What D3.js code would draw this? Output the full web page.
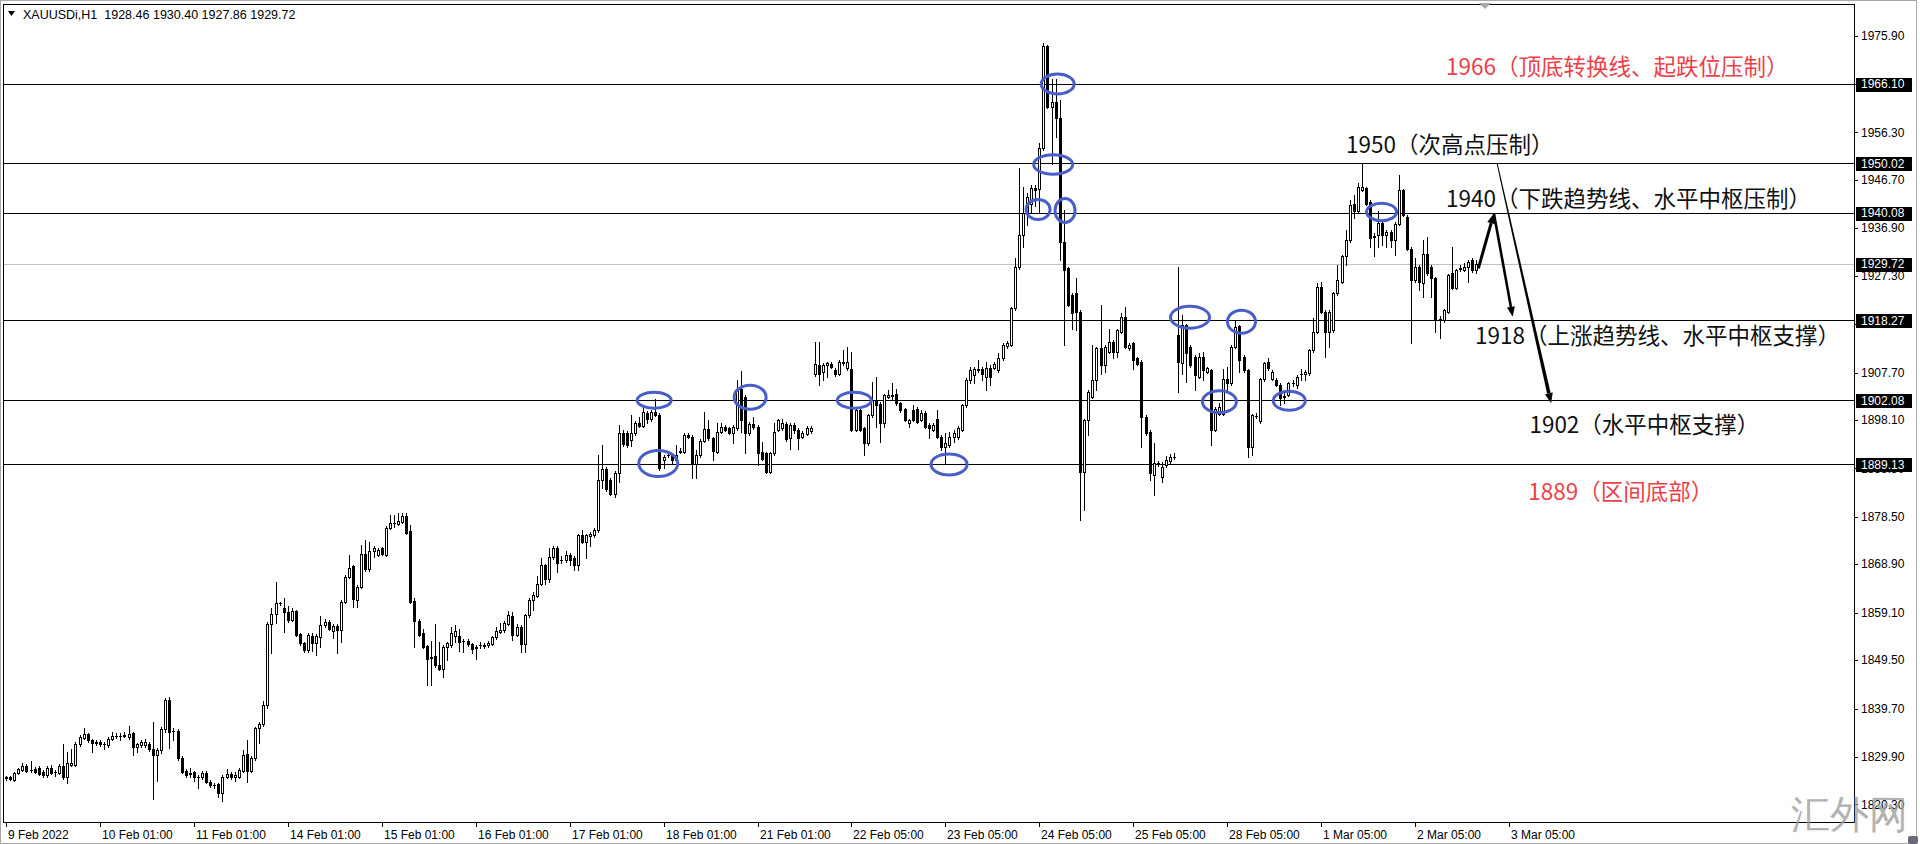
<!DOCTYPE html>
<html>
<head>
<meta charset="utf-8">
<title>XAUUSDi,H1</title>
<style>
  body { margin: 0; background: #fff; }
  svg { display: block; background: #fff; }
  text { font-family: "Liberation Sans", Arial, sans-serif; }
  .axis text { font-size: 12px; fill: #000; }
  .note { font-family: "Noto Sans CJK SC", sans-serif; font-size: 22.5px; }
</style>
</head>
<body>
<svg id="chart" width="1920" height="844"></svg>
<script src="https://d3js.org/d3.v7.min.js"></script>
<script>
// hourly bars [open, high, low, close]
const barsFeb09_15 = [
  [1825.6,1826.1,1825.3,1825.8],[1825.8,1826.0,1825.2,1825.4],[1825.2,1826.8,1825.0,1826.6],[1826.6,1827.6,1826.4,1827.4],
  [1827.3,1828.7,1827.1,1828.0],[1828.0,1828.4,1826.9,1827.1],[1827.3,1829.0,1826.9,1827.2],[1827.5,1827.8,1826.6,1826.9],
  [1827.6,1828.0,1826.2,1826.5],[1826.9,1827.2,1825.9,1826.2],[1826.2,1828.0,1825.9,1827.6],[1827.6,1828.2,1826.5,1826.7],
  [1826.9,1827.3,1826.0,1826.8],[1826.7,1828.5,1826.4,1828.0],[1828.0,1832.5,1825.5,1825.8],[1825.9,1831.0,1824.6,1828.6],
  [1828.3,1831.6,1828.0,1828.6],[1828.3,1833.0,1828.0,1832.5],[1832.5,1834.4,1832.2,1833.9],[1833.8,1835.7,1833.5,1834.5],
  [1834.5,1834.8,1833.0,1833.3],[1833.3,1833.6,1831.0,1832.8],[1832.8,1833.4,1832.4,1833.0],[1833.0,1833.3,1832.2,1832.5],
  [1832.5,1832.9,1831.5,1832.6],[1832.3,1834.0,1832.0,1833.6],[1833.6,1834.9,1833.4,1834.2],[1834.1,1834.7,1833.7,1834.2],
  [1834.1,1834.7,1833.4,1834.2],[1834.2,1834.9,1833.9,1834.4],[1833.9,1836.1,1833.6,1834.6],[1834.7,1835.0,1830.3,1832.0],
  [1831.9,1832.8,1831.0,1832.5],[1832.3,1833.4,1832.0,1833.0],[1832.3,1833.6,1832.0,1833.0],[1832.5,1832.9,1831.2,1831.6],
  [1831.6,1837.0,1821.3,1830.3],[1830.3,1831.8,1825.1,1831.3],[1831.3,1836.0,1830.8,1835.5],[1835.5,1841.8,1835.0,1841.4],
  [1841.4,1842.0,1831.8,1835.0],[1835.1,1835.7,1833.3,1835.2],[1835.2,1835.5,1829.3,1829.6],[1829.6,1830.0,1826.6,1826.9],
  [1827.1,1827.4,1825.8,1826.2],[1826.5,1827.7,1825.9,1826.7],[1826.8,1827.0,1825.1,1825.9],[1825.9,1826.2,1823.6,1825.8],
  [1825.8,1827.0,1825.5,1826.7],[1826.7,1827.0,1824.6,1824.9],[1824.9,1825.2,1823.9,1824.2],[1824.2,1824.7,1823.6,1824.3],
  [1824.4,1824.7,1821.9,1822.7],[1822.7,1826.2,1820.9,1825.9],[1825.9,1827.4,1825.6,1826.4],[1826.4,1826.8,1825.4,1825.9],
  [1825.8,1826.9,1825.1,1826.3],[1825.9,1827.6,1825.6,1827.3],[1827.1,1831.4,1826.8,1830.3],[1830.5,1833.3,1824.9,1827.1],
  [1827.1,1830.0,1826.8,1829.6],[1829.6,1836.0,1829.3,1835.7],[1835.7,1837.0,1832.7,1836.5],[1836.5,1841.2,1836.2,1840.5],
  [1840.4,1857.2,1839.8,1856.9],[1856.9,1860.0,1851.0,1858.8],[1858.8,1865.4,1857.0,1861.0],[1861.0,1861.3,1860.7,1861.0],
  [1860.0,1862.0,1855.1,1859.3],[1859.3,1860.5,1857.3,1857.6],[1857.7,1860.0,1857.4,1859.4],[1859.4,1859.7,1854.3,1854.6],
  [1854.7,1855.0,1852.6,1852.9],[1852.9,1853.2,1851.2,1851.5],[1851.5,1854.9,1851.2,1854.6],[1854.4,1854.9,1851.4,1852.9],
  [1852.9,1854.8,1850.5,1854.4],[1854.2,1858.4,1852.2,1856.6],[1856.6,1857.8,1856.2,1857.3],[1857.3,1857.6,1855.6,1855.9],
  [1855.3,1856.8,1853.9,1856.4],[1856.4,1856.8,1851.0,1855.5],[1855.5,1861.6,1853.2,1861.3],[1861.3,1866.8,1861.0,1866.4],
  [1866.4,1870.8,1866.1,1868.2],[1868.5,1868.8,1860.3,1861.8],[1861.7,1864.7,1860.3,1864.4],[1864.4,1872.7,1864.1,1871.0],
  [1871.0,1873.9,1867.6,1867.9],[1867.9,1873.5,1867.6,1871.6],[1871.5,1872.5,1870.4,1872.2],[1870.8,1872.2,1870.5,1871.8],
  [1872.1,1872.4,1870.8,1871.0],[1870.8,1876.6,1870.5,1876.2],[1876.2,1878.9,1876.0,1877.2],[1877.2,1878.9,1876.5,1877.3],
  [1877.1,1879.2,1876.8,1877.7]
];
const barsFeb15_21 = [
  [1877.5,1879.3,1877.2,1878.7],[1878.7,1879.3,1875.0,1875.3],[1875.7,1876.8,1861.0,1861.3],[1861.5,1862.0,1852.2,1857.5],
  [1857.5,1857.8,1854.3,1854.6],[1854.9,1855.9,1851.9,1852.2],[1852.3,1852.6,1844.5,1849.7],[1850.0,1853.4,1844.5,1850.1],
  [1850.3,1856.9,1848.2,1848.5],[1848.5,1853.2,1847.5,1847.8],[1847.8,1852.5,1846.1,1852.2],[1852.2,1853.2,1849.5,1852.9],
  [1852.5,1856.3,1852.2,1855.0],[1854.4,1856.6,1853.2,1855.3],[1854.4,1855.7,1851.4,1853.2],[1853.4,1853.8,1851.2,1853.4],
  [1853.4,1853.8,1852.3,1852.8],[1852.8,1853.0,1851.0,1851.7],[1852.2,1852.5,1849.8,1852.0],[1852.6,1853.2,1851.9,1852.5],
  [1852.3,1852.9,1852.0,1852.5],[1852.6,1853.3,1852.2,1852.9],[1852.8,1854.4,1852.5,1854.1],[1854.1,1856.2,1853.8,1855.3],
  [1855.2,1857.1,1854.9,1855.6],[1855.5,1857.5,1855.2,1857.1],[1856.9,1859.4,1856.6,1858.6],[1858.4,1859.3,1853.6,1854.6],
  [1854.6,1856.8,1854.3,1856.3],[1856.3,1856.6,1851.2,1852.8],[1852.8,1858.9,1851.2,1858.6],[1858.6,1862.0,1858.3,1861.7],
  [1861.7,1863.2,1859.6,1862.7],[1862.5,1866.6,1862.2,1865.0],[1865.0,1870.1,1864.7,1868.7],[1868.7,1869.0,1865.0,1866.0],
  [1866.0,1872.1,1865.4,1870.4],[1870.3,1872.5,1870.0,1872.1],[1872.1,1872.5,1867.4,1869.1],[1869.8,1870.5,1869.1,1869.7],
  [1869.7,1871.5,1869.4,1870.8],[1870.8,1871.1,1868.7,1869.7],[1870.1,1870.5,1867.7,1868.7],[1868.7,1875.1,1867.7,1874.8],
  [1874.8,1875.8,1873.2,1873.5],[1873.5,1875.1,1870.1,1874.8],[1874.6,1875.5,1872.5,1875.1],[1874.8,1876.3,1874.5,1875.9],
  [1875.8,1891.0,1875.5,1885.9],[1885.9,1893.0,1884.3,1888.1],[1888.1,1888.6,1883.8,1884.1],[1885.9,1886.3,1882.9,1883.2],
  [1883.2,1887.8,1882.6,1887.4],[1887.3,1897.1,1885.6,1895.5],[1895.5,1896.0,1892.9,1893.2],[1895.5,1895.9,1892.7,1893.0],
  [1894.0,1899.1,1892.8,1895.4],[1895.4,1897.8,1895.1,1897.4],[1897.4,1898.8,1896.6,1896.9],[1896.9,1900.8,1896.6,1899.8],
  [1899.6,1900.0,1897.4,1898.4],[1898.2,1900.2,1897.9,1899.8],[1899.7,1902.3,1898.9,1899.2],[1899.2,1899.5,1888.0,1888.3],
  [1890.1,1891.0,1888.3,1890.6],[1891.0,1891.4,1890.7,1891.1],[1891.0,1891.3,1889.3,1890.1],[1890.1,1893.0,1889.8,1891.0],
  [1891.7,1892.4,1891.4,1891.8],[1891.7,1895.5,1891.4,1895.1],[1895.1,1895.5,1894.4,1894.7],[1894.7,1895.0,1886.3,1889.2],
  [1889.2,1892.0,1886.3,1891.0],[1891.0,1894.2,1890.7,1893.9],[1893.9,1899.8,1893.6,1896.2],[1896.2,1898.1,1894.1,1894.4],
  [1894.4,1894.7,1890.0,1891.9],[1891.7,1897.4,1891.4,1895.7],[1895.7,1897.4,1895.4,1896.7],[1896.7,1897.0,1895.8,1896.1],
  [1896.4,1896.7,1895.2,1895.5],[1895.4,1897.0,1893.4,1896.7],[1896.4,1906.2,1896.1,1904.3],[1904.3,1908.1,1895.7,1898.1],
  [1902.8,1903.1,1891.4,1895.4],[1895.4,1897.6,1895.1,1897.3],[1897.3,1898.8,1896.3,1896.6],[1896.7,1897.0,1889.0,1891.5],
  [1891.7,1893.7,1890.0,1890.3],[1891.4,1891.7,1887.3,1887.6],[1887.6,1891.7,1887.3,1891.4],[1891.4,1897.4,1891.1,1895.7]
];
const barsFeb21_25 = [
  [1896.1,1898.4,1895.8,1898.1],[1896.4,1898.4,1896.1,1897.4],[1897.3,1897.6,1893.9,1894.2],[1894.4,1897.4,1892.2,1897.1],
  [1897.1,1897.4,1895.4,1896.1],[1896.1,1896.4,1892.2,1894.4],[1894.7,1895.8,1894.4,1895.4],[1895.3,1896.8,1895.0,1896.4],
  [1895.8,1896.8,1895.5,1896.4],[1907.5,1913.9,1907.0,1909.4],[1909.2,1913.9,1905.2,1907.5],[1907.9,1909.6,1906.2,1909.2],
  [1909.3,1909.9,1906.9,1909.6],[1909.5,1909.9,1908.6,1908.9],[1908.3,1908.6,1907.1,1907.4],[1907.5,1910.2,1907.2,1909.9],
  [1909.6,1912.2,1909.3,1909.9],[1908.6,1912.9,1908.3,1909.9],[1908.4,1911.9,1895.8,1896.1],[1896.1,1900.4,1895.8,1900.1],
  [1900.1,1900.4,1895.8,1896.1],[1896.4,1896.7,1891.0,1893.4],[1893.4,1899.4,1893.1,1899.1],[1899.1,1905.8,1898.8,1902.1],
  [1902.1,1906.8,1896.7,1901.1],[1901.4,1901.7,1893.7,1897.4],[1897.4,1903.4,1896.7,1903.1],[1902.8,1904.2,1902.5,1903.1],
  [1903.0,1905.5,1902.1,1903.2],[1903.3,1904.3,1901.2,1901.5],[1901.5,1901.8,1899.8,1900.1],[1900.3,1900.6,1897.8,1898.1],
  [1897.4,1898.4,1896.7,1898.1],[1900.1,1901.1,1897.8,1898.1],[1900.4,1900.7,1897.4,1897.7],[1898.1,1900.1,1897.8,1899.6],
  [1899.6,1899.9,1896.4,1896.7],[1897.1,1897.4,1894.4,1896.4],[1896.1,1897.4,1895.8,1897.1],[1898.4,1900.1,1894.4,1894.7],
  [1894.7,1895.0,1892.0,1892.7],[1892.7,1895.4,1889.3,1893.4],[1893.0,1895.7,1892.7,1894.7],[1894.7,1896.1,1893.7,1895.4],
  [1894.6,1896.9,1894.3,1896.4],[1896.1,1901.4,1895.8,1901.1],[1901.1,1906.5,1900.8,1906.2],[1906.2,1908.8,1905.5,1908.2],
  [1907.2,1908.9,1905.5,1908.5],[1908.2,1910.2,1907.9,1908.5],[1908.5,1908.9,1906.2,1907.5],[1906.9,1909.9,1904.2,1908.7],
  [1908.7,1909.2,1905.2,1906.9],[1908.7,1909.9,1908.4,1909.5],[1908.2,1911.6,1907.9,1910.6],[1910.6,1913.6,1910.3,1913.3],
  [1913.0,1914.0,1912.7,1913.6],[1913.3,1921.0,1913.0,1920.7],[1920.7,1930.8,1920.4,1929.0],[1929.0,1949.0,1928.7,1935.5],
  [1935.5,1945.3,1933.2,1939.9],[1940.2,1944.0,1937.6,1943.3],[1941.9,1945.6,1940.2,1945.0],[1945.0,1945.6,1941.5,1944.6],
  [1944.8,1954.1,1940.2,1953.1],[1953.1,1974.3,1952.8,1973.7],[1973.7,1974.0,1961.2,1961.5],[1961.5,1967.1,1950.0,1962.5],
  [1962.5,1967.1,1955.4,1959.2],[1959.2,1962.9,1930.5,1934.2],[1934.2,1940.6,1913.3,1928.5],[1928.8,1929.1,1921.1,1921.4],
  [1923.4,1923.8,1916.6,1919.7],[1923.7,1926.8,1916.3,1920.0],[1920.0,1920.3,1877.9,1887.6],[1887.6,1898.4,1879.9,1898.1],
  [1898.1,1904.1,1895.1,1903.8],[1902.8,1913.3,1902.5,1906.2],[1906.2,1912.9,1904.2,1912.6],[1912.6,1921.4,1907.5,1909.2],
  [1909.2,1913.3,1907.9,1912.9],[1911.9,1916.6,1911.6,1913.9],[1913.9,1914.3,1910.6,1911.9],[1911.9,1916.6,1910.9,1916.3],
  [1916.0,1919.7,1915.7,1919.0],[1919.0,1921.0,1912.6,1912.9],[1912.6,1913.6,1912.3,1913.3],[1913.6,1913.9,1908.5,1910.2],
  [1910.6,1910.9,1909.2,1909.5],[1909.9,1910.2,1892.7,1898.8],[1898.8,1899.1,1895.1,1895.4],[1895.7,1896.0,1885.9,1887.3],
  [1887.0,1893.4,1882.9,1889.3],[1889.3,1889.8,1888.8,1889.3]
];
const barsFeb25_Mar02 = [
  [1886.5,1889.5,1885.5,1888.6],[1889.0,1890.8,1888.5,1890.1],[1889.7,1891.3,1889.4,1890.7],[1890.6,1891.5,1890.2,1890.7],
  [1915.3,1929.1,1903.8,1909.9],[1909.7,1919.3,1907.5,1917.3],[1917.3,1917.6,1905.8,1911.6],[1912.9,1913.2,1908.9,1909.2],
  [1910.9,1911.2,1904.2,1907.2],[1906.9,1911.6,1906.6,1910.9],[1910.9,1911.9,1906.2,1908.2],[1907.9,1908.9,1907.6,1908.6],
  [1908.2,1908.5,1893.0,1896.1],[1896.1,1900.8,1895.8,1900.4],[1899.4,1901.5,1899.1,1900.8],[1899.4,1908.5,1899.1,1906.3],
  [1906.3,1908.9,1904.2,1905.5],[1905.5,1913.2,1905.2,1912.9],[1912.9,1918.3,1912.6,1917.0],[1917.1,1917.4,1907.9,1910.2],
  [1910.9,1911.2,1907.9,1908.2],[1908.2,1908.5,1890.7,1892.7],[1892.7,1899.4,1891.0,1899.1],[1899.0,1899.6,1898.6,1898.9],
  [1897.8,1906.6,1897.5,1906.3],[1906.3,1909.9,1906.0,1909.6],[1909.9,1910.6,1908.3,1908.6],[1906.4,1908.2,1906.1,1907.9],
  [1906.2,1906.5,1904.9,1905.2],[1905.2,1905.5,1901.1,1902.5],[1902.8,1903.8,1901.5,1902.9],[1903.2,1905.8,1902.9,1905.5],
  [1905.5,1906.2,1905.0,1905.5],[1905.2,1907.2,1904.5,1906.9],[1907.4,1908.5,1906.2,1907.4],[1907.5,1908.2,1906.2,1907.8],
  [1907.6,1912.5,1907.3,1912.2],[1912.2,1918.7,1911.9,1916.0],[1916.0,1925.8,1915.7,1925.1],[1925.1,1926.1,1919.7,1920.0],
  [1920.0,1920.3,1910.9,1916.0],[1916.0,1920.3,1912.9,1920.0],[1916.3,1924.0,1915.9,1923.7],[1923.7,1929.5,1923.4,1926.4],
  [1926.1,1931.5,1925.8,1931.2],[1931.2,1936.5,1929.5,1934.5],[1934.5,1942.6,1934.2,1941.6],[1941.9,1943.6,1938.9,1940.3],
  [1940.3,1946.0,1940.0,1945.3],[1944.7,1950.0,1944.4,1945.3],[1945.0,1945.3,1941.6,1941.9],[1942.3,1942.6,1933.2,1934.9],
  [1935.2,1936.0,1931.2,1935.4],[1935.5,1940.3,1933.2,1937.9],[1937.9,1938.2,1933.5,1935.5],[1935.5,1936.5,1933.2,1936.2],
  [1936.2,1936.5,1933.2,1934.5],[1934.5,1938.1,1931.5,1937.8],[1937.8,1947.7,1937.5,1944.6],[1944.6,1944.9,1939.3,1939.6],
  [1939.2,1939.5,1932.5,1932.8],[1932.8,1933.1,1913.6,1926.4],[1926.4,1930.8,1926.1,1929.1],[1929.1,1929.4,1924.4,1926.1],
  [1925.9,1934.5,1923.0,1931.7],[1931.7,1935.2,1927.5,1927.8],[1929.1,1929.4,1923.0,1926.8],[1926.8,1927.1,1916.0,1918.3],
  [1918.6,1919.2,1914.6,1918.6],[1918.3,1920.6,1918.0,1920.3],[1920.0,1927.7,1919.7,1927.4],[1927.8,1933.1,1924.6,1924.9],
  [1924.9,1928.7,1924.6,1928.4],[1928.7,1929.4,1928.2,1928.8],[1928.5,1929.8,1928.2,1929.1],[1929.1,1930.5,1926.1,1930.1],
  [1930.5,1930.8,1928.1,1928.4],[1928.46,1930.40,1927.86,1929.72]
];

const symbol = "XAUUSDi,H1";
const priceTicks = [1975.90,1966.10,1956.30,1946.70,1936.90,1927.30,1917.50,1907.70,1898.10,
                    1888.30,1878.50,1868.90,1859.10,1849.50,1839.70,1829.90,1820.30];
const levelLines = [1966.10,1950.02,1940.08,1918.27,1902.08,1889.13];
const bidPrice = 1929.72;
const timeLabels = ["9 Feb 2022","10 Feb 01:00","11 Feb 01:00","14 Feb 01:00","15 Feb 01:00","16 Feb 01:00",
                    "17 Feb 01:00","18 Feb 01:00","21 Feb 01:00","22 Feb 05:00","23 Feb 05:00","24 Feb 05:00",
                    "25 Feb 05:00","28 Feb 05:00","1 Mar 05:00","2 Mar 05:00","3 Mar 05:00"];
const timeLabelBars = [0,23,46,69,92,115,138,161,184,207,230,253,276,299,322,345,368];

// blue rings: [bar, price, rx, ry]
const rings = [
  [158.7,1902.1,17,8],[159.7,1889.3,19.5,13],[182.2,1902.7,16,12],[207.7,1902.1,17,8],
  [230.9,1889.1,18,10.5],[252.7,1940.7,12,10],[256.4,1949.8,19.5,9.7],[257.5,1966.1,16.5,10],
  [259.3,1940.5,10,12],[289.9,1918.9,19.5,11],[302.5,1918.0,14,11.5],[297.1,1901.8,17,11],
  [314.2,1902.0,16,9.5],[336.8,1940.2,15,8.7]
];
const notes = [
  {bar: 352.6, price: 1967.9, text: "1966（顶底转换线、起跌位压制）", red: true},
  {bar: 328.1, price: 1952.1, text: "1950（次高点压制）"},
  {bar: 352.6, price: 1941.3, text: "1940（下跌趋势线、水平中枢压制）"},
  {bar: 359.7, price: 1913.5, text: "1918（上涨趋势线、水平中枢支撑）"},
  {bar: 373.0, price: 1895.5, text: "1902（水平中枢支撑）"},
  {bar: 372.7, price: 1881.9, text: "1889（区间底部）", red: true}
];
// projected path arrows: [fromBar, fromPrice, toBar, toPrice]
const arrowUp = [360.5, 1928.8, 364.3, 1939.9];
const arrowDown = [364.3, 1939.9, 368.9, 1919.0];
const trendLine = [365.1, 1950.0, 378.3, 1901.5];

const bars = [].concat(barsFeb09_15, barsFeb15_21, barsFeb21_25, barsFeb25_Mar02)
  .map((d, i) => ({i, o: d[0], h: d[1], l: d[2], c: d[3]}));

const W = 1920, H = 844;
const plot = {left: 3, right: 1854, top: 4, bottom: 822};

const x = d3.scaleLinear().domain([0, 368]).range([6, 1509]);
const y = d3.scaleLinear().domain([1816.74, 1982.29]).range([plot.bottom, plot.top]);

const svg = d3.select('#chart');

svg.append('defs').append('clipPath').attr('id', 'plotClip')
  .append('rect')
  .attr('x', plot.left + 1).attr('y', plot.top + 1)
  .attr('width', plot.right - plot.left - 1).attr('height', plot.bottom - plot.top - 1);

// outer frame
svg.append('rect').attr('x', 0.5).attr('y', 0.5).attr('width', W - 4).attr('height', H - 1)
  .attr('fill', 'none').attr('stroke', '#a8a8a8');

const g = svg.append('g').attr('clip-path', 'url(#plotClip)');

// level lines
g.append('line')
  .attr('x1', plot.left).attr('x2', plot.right)
  .attr('y1', Math.round(y(bidPrice)) + 0.5).attr('y2', Math.round(y(bidPrice)) + 0.5)
  .attr('stroke', '#c0c0c0');
g.selectAll('line.level').data(levelLines).join('line')
  .attr('class', 'level')
  .attr('x1', plot.left).attr('x2', plot.right)
  .attr('y1', (d) => Math.round(y(d)) + 0.5).attr('y2', (d) => Math.round(y(d)) + 0.5)
  .attr('stroke', '#000');

// candles
const candle = g.append('g').attr('shape-rendering', 'crispEdges')
  .selectAll('g').data(bars).join('g');

candle.append('line')
  .attr('x1', (d) => Math.round(x(d.i)) + 0.5).attr('x2', (d) => Math.round(x(d.i)) + 0.5)
  .attr('y1', (d) => Math.round(y(d.h))).attr('y2', (d) => Math.round(y(d.l)) + 1)
  .attr('stroke', '#000');

candle.each(function (d) {
  const cx = Math.round(x(d.i));
  const top = Math.round(y(Math.max(d.o, d.c)));
  const bot = Math.round(y(Math.min(d.o, d.c)));
  const el = d3.select(this);
  if (bot - top < 1) {
    el.append('line').attr('x1', cx - 1).attr('x2', cx + 2)
      .attr('y1', top + 0.5).attr('y2', top + 0.5).attr('stroke', '#000');
  } else if (d.c >= d.o) {
    el.append('rect').attr('x', cx - 0.5).attr('y', top + 0.5)
      .attr('width', 2).attr('height', bot - top)
      .attr('fill', '#fff').attr('stroke', '#000');
  } else {
    el.append('rect').attr('x', cx - 1).attr('y', top)
      .attr('width', 3).attr('height', bot - top + 1)
      .attr('fill', '#000');
  }
});

// blue rings
g.selectAll('ellipse').data(rings).join('ellipse')
  .attr('cx', (d) => x(d[0])).attr('cy', (d) => y(d[1]))
  .attr('rx', (d) => d[2]).attr('ry', (d) => d[3])
  .attr('fill', 'none').attr('stroke', '#4a5ec8').attr('stroke-width', 3);

// arrows
function arrow(seg, w0, w1, head) {
  const x0 = x(seg[0]), y0 = y(seg[1]), x1 = x(seg[2]), y1 = y(seg[3]);
  const len = Math.hypot(x1 - x0, y1 - y0);
  const ux = (x1 - x0) / len, uy = (y1 - y0) / len;
  const nx = -uy, ny = ux;
  const bx = x1 - ux * head, by = y1 - uy * head;
  const shaft = [
    [x0 + nx * w0 / 2, y0 + ny * w0 / 2], [bx + nx * w1 / 2, by + ny * w1 / 2],
    [bx - nx * w1 / 2, by - ny * w1 / 2], [x0 - nx * w0 / 2, y0 - ny * w0 / 2]
  ];
  const tip = [
    [x1, y1], [bx + nx * head * 0.4, by + ny * head * 0.4], [bx - nx * head * 0.4, by - ny * head * 0.4]
  ];
  g.append('path').attr('d', 'M' + shaft.join('L') + 'Z').attr('fill', '#000');
  g.append('path').attr('d', 'M' + tip.join('L') + 'Z').attr('fill', '#000');
}
arrow(trendLine, 1, 3.6, 10);
arrow(arrowUp, 3, 3, 10);
arrow(arrowDown, 2.6, 2.6, 10);

// notes
g.selectAll('text.note').data(notes).join('text')
  .attr('class', 'note')
  .attr('x', (d) => x(d.bar)).attr('y', (d) => y(d.price))
  .attr('fill', (d) => d.red ? '#ee4049' : '#111')
  .text((d) => d.text);

// plot border
svg.append('path')
  .attr('d', `M${plot.left + 0.5},${plot.bottom + 0.5}V${plot.top + 0.5}H${plot.right + 0.5}V${plot.bottom + 0.5}H${plot.left + 0.5}`)
  .attr('fill', 'none').attr('stroke', '#000').attr('shape-rendering', 'crispEdges');

// price axis
const yAxis = svg.append('g').attr('class', 'axis');
yAxis.selectAll('line').data(priceTicks).join('line')
  .attr('x1', plot.right).attr('x2', plot.right + 4)
  .attr('y1', (d) => Math.round(y(d)) + 0.5).attr('y2', (d) => Math.round(y(d)) + 0.5)
  .attr('stroke', '#000');
yAxis.selectAll('text').data(priceTicks).join('text')
  .attr('x', plot.right + 7).attr('y', (d) => y(d)).attr('dy', '0.35em')
  .text((d) => d.toFixed(2));

const marks = levelLines.concat([bidPrice]);
const tag = svg.append('g').attr('class', 'axis').selectAll('g').data(marks).join('g');
tag.append('rect')
  .attr('x', plot.right + 2).attr('y', (d) => Math.round(y(d)) - 6)
  .attr('width', 56).attr('height', 14).attr('fill', '#000');
tag.append('text')
  .attr('x', plot.right + 7).attr('y', (d) => y(d)).attr('dy', '0.36em')
  .style('fill', '#fff')
  .text((d) => d.toFixed(2));

// time axis
const xAxis = svg.append('g').attr('class', 'axis');
xAxis.selectAll('line').data(timeLabelBars).join('line')
  .attr('x1', (d) => Math.round(x(d)) + 0.5).attr('x2', (d) => Math.round(x(d)) + 0.5)
  .attr('y1', plot.bottom).attr('y2', plot.bottom + 5)
  .attr('stroke', '#000');
xAxis.selectAll('text').data(timeLabelBars).join('text')
  .attr('x', (d) => Math.max(plot.left, Math.round(x(d)) + 2)).attr('y', plot.bottom + 17)
  .text((d, k) => timeLabels[k]);

// header
const last = bars[bars.length - 1];
svg.append('path').attr('d', 'M8,11H15L11.5,16Z').attr('fill', '#000');
svg.append('text').attr('x', 23).attr('y', 19).attr('font-size', 12.5)
  .style('white-space', 'pre')
  .text(`${symbol}  ${[last.o, last.h, last.l, last.c].map((v) => v.toFixed(2)).join(' ')}`);

// chart shift marker
svg.append('path').attr('d', 'M1479,3H1491L1485,9Z').attr('fill', '#a8a8a8');

// watermark
svg.append('text')
  .attr('x', 1791).attr('y', 828)
  .attr('font-family', '"Noto Sans CJK SC", sans-serif').attr('font-weight', 300)
  .attr('font-size', 39).attr('fill', '#a0a0a0').attr('opacity', 0.8)
  .attr('textLength', 117)
  .text('汇外网');
svg.append('rect').attr('x', 1908).attr('y', 836).attr('width', 10).attr('height', 8)
  .attr('rx', 2).attr('fill', '#6a6a78');
</script>
</body>
</html>
